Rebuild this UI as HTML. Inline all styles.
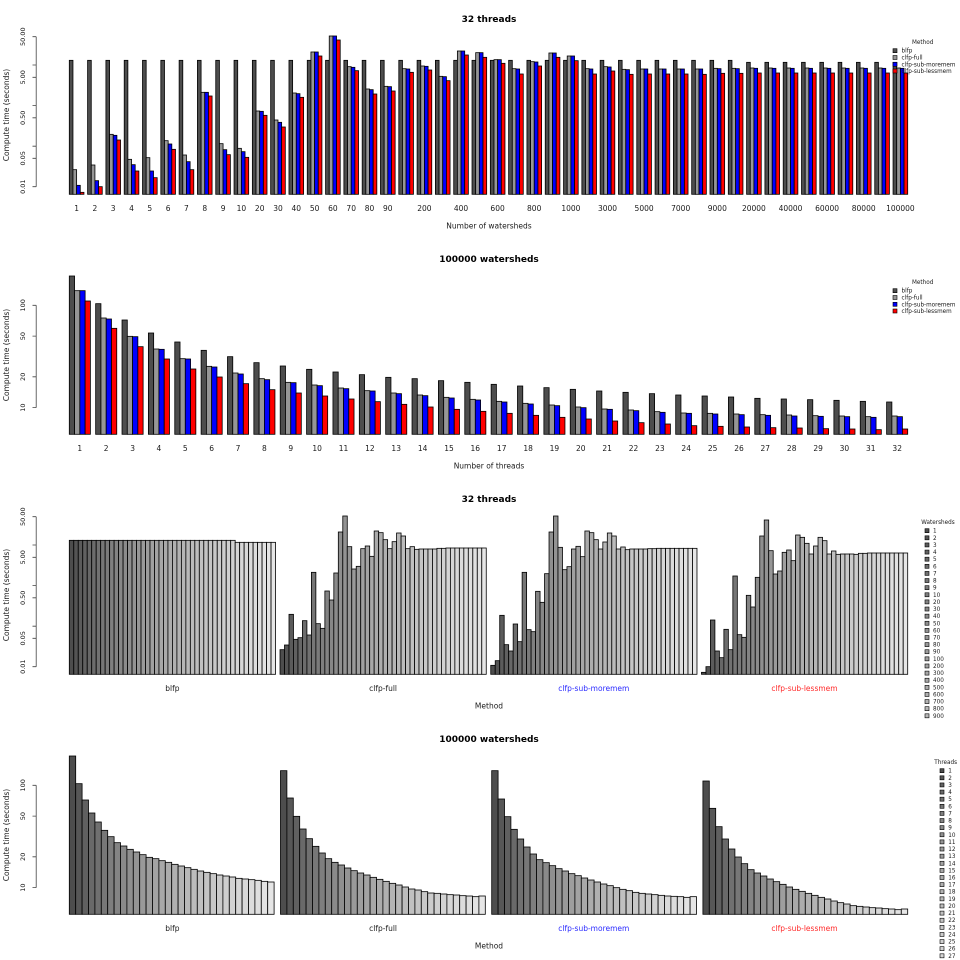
<!DOCTYPE html>
<html><head><meta charset="utf-8"><style>
html,body{margin:0;padding:0;background:#fff;}
svg{display:block;}
text{font-family:"DejaVu Sans","Liberation Sans",sans-serif;fill:#1a1a1a;}
.t{font-size:9px;font-weight:bold;fill:#000;}
.ax{font-size:7.5px;}
.yt{font-size:6.5px;}
.lg{font-size:5.7px;}
</style></head><body>
<svg width="960" height="960" viewBox="0 0 960 960">
<defs><clipPath id="c3"><rect x="880" y="480" width="80" height="240"/></clipPath></defs>
<rect width="960" height="960" fill="#fff"/>
<g id="bars" stroke="#000" stroke-width="0.8"></g>

<!-- ============ PANEL 1 ============ -->
<text class="t" x="489" y="22" text-anchor="middle">32 threads</text>
<g stroke="#444" stroke-width="0.8" fill="none">
<path d="M36.2 36.7V186.7M32.5 36.7H36.2M32.5 65.0H36.2M32.5 77.3H36.2M32.5 105.6H36.2M32.5 117.8H36.2M32.5 146.2H36.2M32.5 158.3H36.2M32.5 186.7H36.2"/>
</g>
<g class="yt" text-anchor="middle">
<text transform="translate(25,36.7) rotate(-90)">50.00</text>
<text transform="translate(25,77.3) rotate(-90)">5.00</text>
<text transform="translate(25,117.8) rotate(-90)">0.50</text>
<text transform="translate(25,158.3) rotate(-90)">0.05</text>
<text transform="translate(25,186.7) rotate(-90)">0.01</text>
</g>
<text class="ax" transform="translate(9,115) rotate(-90)" text-anchor="middle">Compute time (seconds)</text>
<g class="ax" text-anchor="middle">
<text x="76.6" y="211">1</text><text x="94.9" y="211">2</text><text x="113.2" y="211">3</text><text x="131.5" y="211">4</text><text x="149.8" y="211">5</text><text x="168.1" y="211">6</text><text x="186.4" y="211">7</text><text x="204.8" y="211">8</text><text x="223.1" y="211">9</text><text x="241.4" y="211">10</text>
<text x="259.7" y="211">20</text><text x="278.0" y="211">30</text><text x="296.3" y="211">40</text><text x="314.6" y="211">50</text><text x="332.9" y="211">60</text><text x="351.2" y="211">70</text><text x="369.5" y="211">80</text><text x="387.8" y="211">90</text>
<text x="424.4" y="211">200</text><text x="461.0" y="211">400</text><text x="497.6" y="211">600</text><text x="534.2" y="211">800</text><text x="570.9" y="211">1000</text>
<text x="607.5" y="211">3000</text><text x="644.1" y="211">5000</text><text x="680.7" y="211">7000</text><text x="717.3" y="211">9000</text>
<text x="753.9" y="211">20000</text><text x="790.5" y="211">40000</text><text x="827.1" y="211">60000</text><text x="863.7" y="211">80000</text><text x="900.4" y="211">100000</text>
<text x="489" y="228.7">Number of watersheds</text>
</g>
<g stroke="#000" stroke-width="0.6">
<rect x="893" y="48.7" width="4" height="4" fill="#4d4d4d"/>
<rect x="893" y="55.5" width="4" height="4" fill="#969696"/>
<rect x="893" y="62.3" width="4" height="4" fill="#0000ff"/>
<rect x="893" y="69.0" width="4" height="4" fill="#ff0000"/>
</g>
<g class="lg">
<text x="922.7" y="44" text-anchor="middle">Method</text>
<text x="901.5" y="52.7">blfp</text>
<text x="901.5" y="59.5">clfp-full</text>
<text x="901.5" y="66.3">clfp-sub-moremem</text>
<text x="901.5" y="73.0">clfp-sub-lessmem</text>
</g>

<!-- ============ PANEL 2 ============ -->
<text class="t" x="489" y="262" text-anchor="middle">100000 watersheds</text>
<g stroke="#444" stroke-width="0.8" fill="none">
<path d="M36.2 305.3V407.6M32.5 305.3H36.2M32.5 336.1H36.2M32.5 376.8H36.2M32.5 407.6H36.2"/>
</g>
<g class="yt" text-anchor="middle">
<text transform="translate(25,305.3) rotate(-90)">100</text>
<text transform="translate(25,336.1) rotate(-90)">50</text>
<text transform="translate(25,376.8) rotate(-90)">20</text>
<text transform="translate(25,407.6) rotate(-90)">10</text>
</g>
<text class="ax" transform="translate(9,355) rotate(-90)" text-anchor="middle">Compute time (seconds)</text>
<g class="ax" text-anchor="middle">
<text x="79.8" y="451">1</text><text x="106.2" y="451">2</text><text x="132.6" y="451">3</text><text x="158.9" y="451">4</text><text x="185.3" y="451">5</text><text x="211.7" y="451">6</text><text x="238.0" y="451">7</text><text x="264.4" y="451">8</text>
<text x="290.8" y="451">9</text><text x="317.1" y="451">10</text><text x="343.5" y="451">11</text><text x="369.9" y="451">12</text><text x="396.2" y="451">13</text><text x="422.6" y="451">14</text><text x="449.0" y="451">15</text><text x="475.3" y="451">16</text>
<text x="501.7" y="451">17</text><text x="528.1" y="451">18</text><text x="554.4" y="451">19</text><text x="580.8" y="451">20</text><text x="607.1" y="451">21</text><text x="633.5" y="451">22</text><text x="659.9" y="451">23</text><text x="686.2" y="451">24</text>
<text x="712.6" y="451">25</text><text x="739.0" y="451">26</text><text x="765.3" y="451">27</text><text x="791.7" y="451">28</text><text x="818.1" y="451">29</text><text x="844.4" y="451">30</text><text x="870.8" y="451">31</text><text x="897.2" y="451">32</text>
<text x="489" y="468.7">Number of threads</text>
</g>
<g stroke="#000" stroke-width="0.6">
<rect x="893" y="288.7" width="4" height="4" fill="#4d4d4d"/>
<rect x="893" y="295.5" width="4" height="4" fill="#969696"/>
<rect x="893" y="302.3" width="4" height="4" fill="#0000ff"/>
<rect x="893" y="309.0" width="4" height="4" fill="#ff0000"/>
</g>
<g class="lg">
<text x="922.7" y="284" text-anchor="middle">Method</text>
<text x="901.5" y="292.7">blfp</text>
<text x="901.5" y="299.5">clfp-full</text>
<text x="901.5" y="306.3">clfp-sub-moremem</text>
<text x="901.5" y="313.0">clfp-sub-lessmem</text>
</g>

<!-- ============ PANEL 3 ============ -->
<text class="t" x="489" y="502" text-anchor="middle">32 threads</text>
<g stroke="#444" stroke-width="0.8" fill="none">
<path d="M36.2 516.7V666.7M32.5 516.7H36.2M32.5 545.0H36.2M32.5 557.3H36.2M32.5 585.6H36.2M32.5 597.8H36.2M32.5 626.2H36.2M32.5 638.3H36.2M32.5 666.7H36.2"/>
</g>
<g class="yt" text-anchor="middle">
<text transform="translate(25,516.7) rotate(-90)">50.00</text>
<text transform="translate(25,557.3) rotate(-90)">5.00</text>
<text transform="translate(25,597.8) rotate(-90)">0.50</text>
<text transform="translate(25,638.3) rotate(-90)">0.05</text>
<text transform="translate(25,666.7) rotate(-90)">0.01</text>
</g>
<text class="ax" transform="translate(9,595) rotate(-90)" text-anchor="middle">Compute time (seconds)</text>
<g class="ax" text-anchor="middle">
<text x="172.4" y="691">blfp</text>
<text x="383.1" y="691">clfp-full</text>
<text x="593.8" y="691" style="fill:#2b2bff">clfp-sub-moremem</text>
<text x="804.5" y="691" style="fill:#ff2b2b">clfp-sub-lessmem</text>
<text x="489" y="708.7">Method</text>
</g>
<g clip-path="url(#c3)">
<g id="leg3" stroke="#000" stroke-width="0.6"></g>
<g class="lg">
<text x="938" y="524" text-anchor="middle">Watersheds</text>
<text x="933" y="532.7">1</text><text x="933" y="539.8">2</text><text x="933" y="546.9">3</text><text x="933" y="554.1">4</text><text x="933" y="561.2">5</text><text x="933" y="568.3">6</text><text x="933" y="575.4">7</text><text x="933" y="582.5">8</text><text x="933" y="589.7">9</text>
<text x="933" y="596.8">10</text><text x="933" y="603.9">20</text><text x="933" y="611.0">30</text><text x="933" y="618.1">40</text><text x="933" y="625.3">50</text><text x="933" y="632.4">60</text><text x="933" y="639.5">70</text><text x="933" y="646.6">80</text><text x="933" y="653.7">90</text>
<text x="933" y="660.9">100</text><text x="933" y="668.0">200</text><text x="933" y="675.1">300</text><text x="933" y="682.2">400</text><text x="933" y="689.3">500</text><text x="933" y="696.5">600</text><text x="933" y="703.6">700</text><text x="933" y="710.7">800</text><text x="933" y="717.8">900</text>
</g>
</g>

<!-- ============ PANEL 4 ============ -->
<text class="t" x="489" y="742" text-anchor="middle">100000 watersheds</text>
<g stroke="#444" stroke-width="0.8" fill="none">
<path d="M36.2 785.3V887.6M32.5 785.3H36.2M32.5 816.1H36.2M32.5 856.8H36.2M32.5 887.6H36.2"/>
</g>
<g class="yt" text-anchor="middle">
<text transform="translate(25,785.3) rotate(-90)">100</text>
<text transform="translate(25,816.1) rotate(-90)">50</text>
<text transform="translate(25,856.8) rotate(-90)">20</text>
<text transform="translate(25,887.6) rotate(-90)">10</text>
</g>
<text class="ax" transform="translate(9,835) rotate(-90)" text-anchor="middle">Compute time (seconds)</text>
<g class="ax" text-anchor="middle">
<text x="172.4" y="931">blfp</text>
<text x="383.1" y="931">clfp-full</text>
<text x="593.8" y="931" style="fill:#2b2bff">clfp-sub-moremem</text>
<text x="804.5" y="931" style="fill:#ff2b2b">clfp-sub-lessmem</text>
<text x="489" y="948.7">Method</text>
</g>
<g id="leg4" stroke="#000" stroke-width="0.6"></g>
<g class="lg">
<text x="945.7" y="764" text-anchor="middle">Threads</text>
<text x="948.3" y="772.7">1</text><text x="948.3" y="779.8">2</text><text x="948.3" y="786.9">3</text><text x="948.3" y="794.1">4</text><text x="948.3" y="801.2">5</text><text x="948.3" y="808.3">6</text><text x="948.3" y="815.4">7</text><text x="948.3" y="822.5">8</text><text x="948.3" y="829.7">9</text>
<text x="948.3" y="836.8">10</text><text x="948.3" y="843.9">11</text><text x="948.3" y="851.0">12</text><text x="948.3" y="858.1">13</text><text x="948.3" y="865.3">14</text><text x="948.3" y="872.4">15</text><text x="948.3" y="879.5">16</text><text x="948.3" y="886.6">17</text><text x="948.3" y="893.7">18</text>
<text x="948.3" y="900.9">19</text><text x="948.3" y="908.0">20</text><text x="948.3" y="915.1">21</text><text x="948.3" y="922.2">22</text><text x="948.3" y="929.3">23</text><text x="948.3" y="936.5">24</text><text x="948.3" y="943.6">25</text><text x="948.3" y="950.7">26</text><text x="948.3" y="957.8">27</text>
</g>
</svg>
<script>
(function(){
var s='';
function R(x,y,w,h,f){s+='<rect x="'+x.toFixed(2)+'" y="'+y.toFixed(2)+'" width="'+w.toFixed(2)+'" height="'+Math.max(h,0).toFixed(2)+'" fill="'+f+'"/>';}
function gc(n,i){var a=Math.pow(.3,2.2),b=Math.pow(.9,2.2);var v=Math.round(Math.pow(a+(b-a)*i/(n-1),1/2.2)*255);return 'rgb('+v+','+v+','+v+')';}
var C=['#4d4d4d','#969696','#0000ff','#ff0000'];
var b1=[];for(var i=0;i<46;i++)b1.push(i<37?181:187);
var f1=[509,495,403,478,473,422,465,277,431,445,333,360,279,156,108,200,267,259,206,198,229,153,158,179,206,185,159,168,206,200,208,207,207,207,207,205,205,204,204,204,204,204,204,204,204,204];
var m1=[556,542,406,494,513,432,485,277,449,455,334,367,281,156,108,202,269,260,207,199,230,153,158,179,207,186,159,168,207,201,209,207,207,207,207,206,206,205,205,205,205,205,205,205,205,205];
var l1=[577,560,420,513,533,448,509,288,464,472,346,381,292,168,120,212,282,273,217,210,242,165,172,190,222,198,172,182,222,213,223,222,222,222,223,220,220,219,219,219,219,219,219,219,219,219];
var P1=[b1,f1,m1,l1];
var P2=[
[108,191,240,279,306,331,350,368,378,388,396,404,412,416,422,427,433,438,443,448,453,457,461,465,468,471,475,477,479,481,484,486],
[152,234,289,327,356,379,399,416,427,435,444,452,459,465,472,478,484,490,495,501,507,510,515,519,520,522,524,525,527,528,530,528],
[152,237,290,328,357,381,402,419,428,437,446,453,461,467,474,480,486,492,497,503,508,512,517,520,522,524,526,528,529,530,532,530],
[183,265,320,357,387,411,431,449,459,468,477,485,493,501,508,514,520,526,532,537,543,548,552,557,559,561,563,564,566,567,569,567]];
var X0=69.3,u,y,g,k,m,w,t;
u=838.4/229;
for(g=0;g<46;g++)for(k=0;k<4;k++){y=P1[k][g]/3;R(X0+(g*5+k)*u,y,u,194.3-y,C[k]);}
u=838.4/159;
for(g=0;g<32;g++)for(k=0;k<4;k++){y=240+P2[k][g]/3;R(X0+(g*5+k)*u,y,u,434.3-y,C[k]);}
u=838.4/187;
for(m=0;m<4;m++)for(w=0;w<46;w++){y=480+P1[m][w]/3;R(X0+(m*47+w)*u,y,u,674.3-y,gc(46,w));}
u=838.4/131;
for(m=0;m<4;m++)for(t=0;t<32;t++){y=720+P2[m][t]/3;R(X0+(m*33+t)*u,y,u,914.3-y,gc(32,t));}
document.getElementById('bars').innerHTML=s;
s='';for(i=0;i<27;i++){R(925,528.7+i*7.12,4,4,gc(46,i));}
document.getElementById('leg3').innerHTML=s;
s='';for(i=0;i<27;i++){R(940,768.7+i*7.12,4,4,gc(32,i));}
document.getElementById('leg4').innerHTML=s;
})();
</script>
</body></html>
